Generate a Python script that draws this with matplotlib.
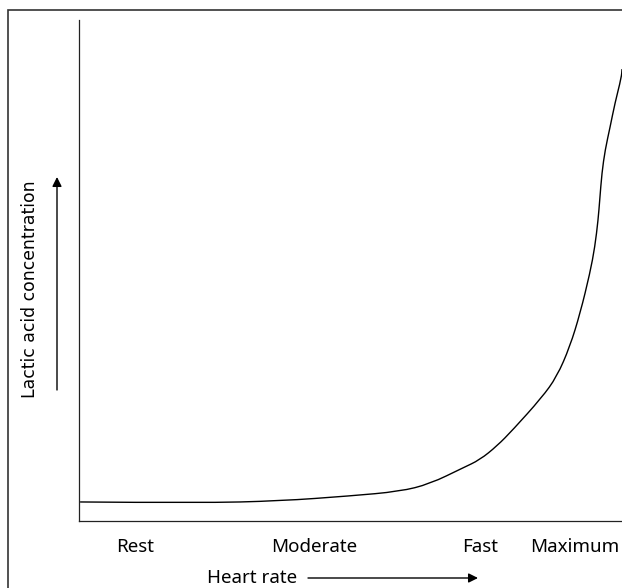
import numpy as np
import matplotlib
matplotlib.use("Agg")
import matplotlib.pyplot as plt
from matplotlib.patches import Rectangle, PathPatch
from matplotlib.path import Path

# heart rate (0-100 across the axis) vs lactic acid level (0-100 up the axis)
heart_rate = [0.2, 22.3, 37.0, 49.9, 59.1, 64.6, 70.7, 73.8, 77.0, 79.9, 85.2, 88.0,
              90.4, 92.3, 94.1, 95.0, 95.6, 95.9, 96.3, 96.9, 97.8, 98.7, 99.9, 100.0]
lactic = [3.8, 3.6, 4.0, 5.0, 5.9, 7.4, 10.6, 12.2, 15.0, 18.2, 24.6, 28.8,
          34.8, 41.5, 49.5, 54.7, 60.1, 64.1, 69.5, 74.1, 78.6, 83.4, 88.6, 90.2]

zone_pos = [10.3, 43.3, 73.8, 91.3]
zone_labels = ["Rest", "Moderate", "Fast", "Maximum"]

W, H = 622, 588
fig = plt.figure(figsize=(W / 100, H / 100), dpi=100)

# axes box in pixels: left 79, bottom spine y=521, top y=20, right past the edge
ax = fig.add_axes([79 / W, (H - 521) / H, 1.0, (521 - 20) / H])
ax.set_xlim(0, 100 * W / (W - 79))
ax.set_ylim(0, 100)

# smooth line through the read points (quadratic segments between midpoints)
pts = np.column_stack([heart_rate, lactic])
verts = [pts[0]]
codes = [Path.MOVETO]
for i in range(1, len(pts) - 1):
    verts += [pts[i], (pts[i] + pts[i + 1]) / 2]
    codes += [Path.CURVE3, Path.CURVE3]
verts.append(pts[-1])
codes.append(Path.LINETO)
ax.add_patch(PathPatch(Path(verts, codes), fill=False, edgecolor="black", lw=1.0))

for s in ["top", "right"]:
    ax.spines[s].set_visible(False)
for s in ["left", "bottom"]:
    ax.spines[s].set_linewidth(0.9)
    ax.spines[s].set_color("#222222")

ax.set_yticks([])
ax.set_xticks(zone_pos)
ax.set_xticklabels(zone_labels, fontsize=13.5, family="Noto Sans")
ax.tick_params(axis="x", length=0, pad=12)

# y label and arrow
fig.text(30 / W, 1 - 289 / H, "Lactic acid concentration", rotation=90,
         ha="center", va="center", fontsize=12.4, family="DejaVu Sans")
ax.annotate("", xy=(57 / W, 1 - 177 / H), xytext=(57 / W, 1 - 390 / H),
            xycoords="figure fraction", textcoords="figure fraction",
            arrowprops=dict(arrowstyle="-|>", lw=1.0, color="black",
                            mutation_scale=14, shrinkA=0, shrinkB=0))

# x label and arrow
fig.text(252 / W, 1 - 578 / H, "Heart rate", ha="center", va="center",
         fontsize=13.5, family="Noto Sans")
ax.annotate("", xy=(478 / W, 1 - 578 / H), xytext=(308 / W, 1 - 578 / H),
            xycoords="figure fraction", textcoords="figure fraction",
            arrowprops=dict(arrowstyle="-|>", lw=1.0, color="black",
                            mutation_scale=14, shrinkA=0, shrinkB=0))

# outer frame, cut off at the right and bottom
fig.patches.append(Rectangle((8 / W, -0.1), 1.2, 1 - 10 / H + 0.1,
                             transform=fig.transFigure, fill=False,
                             edgecolor="#333333", lw=1.2, figure=fig))

fig.savefig("out.png", dpi=100)
